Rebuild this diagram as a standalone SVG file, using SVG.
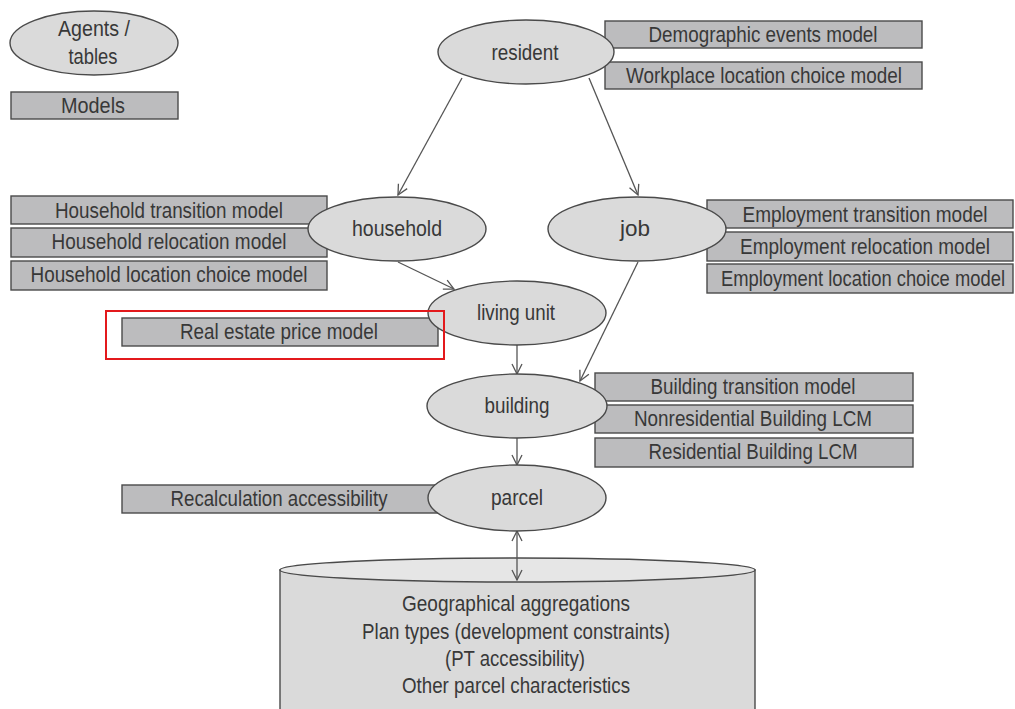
<svg xmlns="http://www.w3.org/2000/svg" width="1015" height="709" viewBox="0 0 1015 709">
  <style>
    .agent { fill: #dadada; stroke: #4a4a4a; stroke-width: 1.4; }
    .model { fill: #bcbcbe; stroke: #4a4a4a; stroke-width: 1.4; }
    .db-body { fill: #dadada; stroke: #4a4a4a; stroke-width: 1.4; }
    .db-top { fill: #e6e6e6; stroke: #4a4a4a; stroke-width: 1.4; }
    .hl { fill: none; stroke: #e3191c; stroke-width: 2; }
    text { font-family: "Liberation Sans", Arial, sans-serif; font-size: 22px; fill: #383838; text-anchor: middle; }
    .edge { stroke: #555; stroke-width: 1.3; fill: none; }
  </style>
  <defs>
    <marker id="arrow" viewBox="0 0 12 12" refX="11" refY="6" markerWidth="12" markerHeight="12" markerUnits="userSpaceOnUse" orient="auto-start-reverse">
      <path d="M1,1 L11,6 L1,11" fill="none" stroke="#555" stroke-width="1.3"/>
    </marker>
  </defs>
  <rect width="1015" height="709" fill="#ffffff"/>

  <!-- legend -->
  <g id="legend">
    <ellipse class="agent" cx="94" cy="43" rx="84" ry="32"/>
    <text x="94" y="36" textLength="72" lengthAdjust="spacingAndGlyphs">Agents /</text>
    <text x="93" y="64" textLength="49" lengthAdjust="spacingAndGlyphs">tables</text>
    <rect class="model" x="11" y="92" width="167" height="27"/>
    <text x="93" y="113" textLength="64" lengthAdjust="spacingAndGlyphs">Models</text>
  </g>

  <!-- model boxes -->
  <g id="models-resident">
    <rect class="model" x="605" y="21" width="317" height="27"/>
    <text x="763" y="42" textLength="229" lengthAdjust="spacingAndGlyphs">Demographic events model</text>
    <rect class="model" x="605" y="62" width="317" height="27"/>
    <text x="764" y="83" textLength="276" lengthAdjust="spacingAndGlyphs">Workplace location choice model</text>
  </g>
  <g id="models-household">
    <rect class="model" x="11" y="196" width="316" height="28"/>
    <text x="169" y="218" textLength="228" lengthAdjust="spacingAndGlyphs">Household transition model</text>
    <rect class="model" x="11" y="228" width="316" height="29"/>
    <text x="169" y="249" textLength="235" lengthAdjust="spacingAndGlyphs">Household relocation model</text>
    <rect class="model" x="11" y="261" width="316" height="29"/>
    <text x="169" y="282" textLength="277" lengthAdjust="spacingAndGlyphs">Household location choice model</text>
  </g>
  <g id="models-job">
    <rect class="model" x="707" y="200" width="306" height="28"/>
    <text x="865" y="222" textLength="245" lengthAdjust="spacingAndGlyphs">Employment transition  model</text>
    <rect class="model" x="707" y="232" width="306" height="29"/>
    <text x="865" y="254" textLength="250" lengthAdjust="spacingAndGlyphs">Employment relocation model</text>
    <rect class="model" x="707" y="264" width="306" height="29"/>
    <text x="863" y="286" textLength="284" lengthAdjust="spacingAndGlyphs">Employment location choice model</text>
  </g>
  <g id="models-living-unit">
    <rect class="model" x="122" y="318" width="316" height="28"/>
    <text x="279" y="339" textLength="198" lengthAdjust="spacingAndGlyphs">Real estate price model</text>
  </g>
  <g id="models-building">
    <rect class="model" x="595" y="373" width="318" height="28"/>
    <text x="753" y="394" textLength="205" lengthAdjust="spacingAndGlyphs">Building transition  model</text>
    <rect class="model" x="595" y="405" width="318" height="28"/>
    <text x="753" y="426" textLength="238" lengthAdjust="spacingAndGlyphs">Nonresidential Building LCM</text>
    <rect class="model" x="595" y="438" width="318" height="29"/>
    <text x="753" y="459" textLength="209" lengthAdjust="spacingAndGlyphs">Residential Building LCM</text>
  </g>
  <g id="models-parcel">
    <rect class="model" x="122" y="485" width="320" height="28"/>
    <text x="279" y="506" textLength="217" lengthAdjust="spacingAndGlyphs">Recalculation accessibility</text>
  </g>

  <!-- parcel attribute store -->
  <g id="parcel-store">
    <path class="db-body" d="M280,570 L280,715 L755,715 L755,570 Z"/>
    <ellipse class="db-top" cx="517.5" cy="570" rx="237.5" ry="12"/>
    <text x="516" y="611" textLength="228" lengthAdjust="spacingAndGlyphs">Geographical aggregations</text>
    <text x="516" y="639" textLength="308" lengthAdjust="spacingAndGlyphs">Plan types  (development constraints)</text>
    <text x="515" y="666" textLength="140" lengthAdjust="spacingAndGlyphs">(PT accessibility)</text>
    <text x="516" y="693" textLength="228" lengthAdjust="spacingAndGlyphs">Other parcel characteristics</text>
  </g>

  <!-- connectors -->
  <g id="connectors">
    <line class="edge" x1="462" y1="78" x2="398" y2="195" marker-end="url(#arrow)"/>
    <line class="edge" x1="589" y1="78" x2="638" y2="195" marker-end="url(#arrow)"/>
    <line class="edge" x1="398" y1="262" x2="454" y2="289" marker-end="url(#arrow)"/>
    <line class="edge" x1="638" y1="262" x2="580" y2="381" marker-end="url(#arrow)"/>
    <line class="edge" x1="517" y1="345" x2="517" y2="374" marker-end="url(#arrow)"/>
    <line class="edge" x1="517" y1="438" x2="517" y2="465" marker-end="url(#arrow)"/>
    <line class="edge" x1="517" y1="531" x2="517" y2="580" marker-start="url(#arrow)" marker-end="url(#arrow)"/>
  </g>

  <!-- agent tables -->
  <g id="resident">
    <ellipse class="agent" cx="526" cy="52" rx="88" ry="32"/>
    <text x="525" y="60" textLength="67" lengthAdjust="spacingAndGlyphs">resident</text>
  </g>
  <g id="household">
    <ellipse class="agent" cx="397" cy="229" rx="89" ry="32"/>
    <text x="397" y="236" textLength="90" lengthAdjust="spacingAndGlyphs">household</text>
  </g>
  <g id="job">
    <ellipse class="agent" cx="637" cy="229" rx="89" ry="32"/>
    <text x="635" y="236" textLength="30" lengthAdjust="spacingAndGlyphs">job</text>
  </g>
  <g id="living-unit">
    <ellipse class="agent" cx="517" cy="313" rx="89" ry="32"/>
    <text x="516" y="320" textLength="78" lengthAdjust="spacingAndGlyphs">living unit</text>
  </g>
  <g id="building">
    <ellipse class="agent" cx="517" cy="406" rx="90" ry="32"/>
    <text x="517" y="413" textLength="65" lengthAdjust="spacingAndGlyphs">building</text>
  </g>
  <g id="parcel">
    <ellipse class="agent" cx="517" cy="498" rx="89" ry="33"/>
    <text x="517" y="505" textLength="52" lengthAdjust="spacingAndGlyphs">parcel</text>
  </g>

  <!-- highlight around the real estate price model -->
  <rect id="highlight" class="hl" x="106" y="311" width="338" height="48"/>
</svg>
